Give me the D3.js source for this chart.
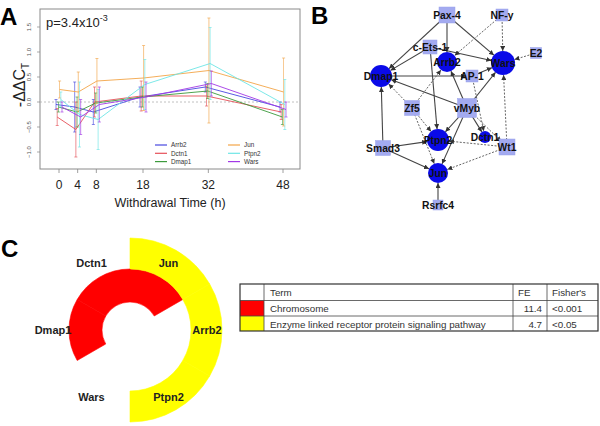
<!DOCTYPE html>
<html><head><meta charset="utf-8">
<script src="https://cdn.jsdelivr.net/npm/d3@7"></script>
<style>body{margin:0;background:#fff}svg{display:block}text{font-family:"Liberation Sans",Arial,sans-serif}</style>
</head><body><svg id="c" width="600" height="426"></svg>
<script>
// ---------- Panel A data ----------
const times = [0, 4, 8, 18, 32, 48];
const seriesNames = ["Arrb2", "Dctn1", "Dmap1", "Jun", "Ptpn2", "Wars"];
const arrb2Mean = [-0.05, -0.10, -0.20, 0.10, 0.30, -0.10];
const arrb2Err  = [0.10, 0.50, 0.25, 0.20, 0.10, 0.10];
const dctn1Mean = [-0.30, -0.55, 0.00, 0.12, 0.12, -0.20];
const dctn1Err  = [0.17, 0.55, 0.30, 0.30, 0.20, 0.15];
const dmap1Mean = [-0.10, -0.20, -0.02, 0.10, 0.22, -0.30];
const dmap1Err  = [0.10, 0.30, 0.20, 0.20, 0.15, 0.15];
const junMean   = [0.25, 0.20, 0.42, 0.48, 0.63, 0.20];
const junErr    = [0.17, 0.40, 0.45, 0.65, 1.05, 0.68];
const ptpn2Mean = [0.05, -0.25, -0.35, 0.35, 0.77, -0.05];
const ptpn2Err  = [0.15, 0.65, 0.60, 0.50, 0.72, 0.50];
const warsMean  = [-0.10, -0.30, -0.05, 0.10, 0.37, -0.15];
const warsErr   = [0.10, 0.35, 0.35, 0.30, 0.25, 0.15];
const yTicks = [-1.0, -0.5, 0.0, 0.5, 1.0, 1.5];
const pText = "p=3.4x10";
const pExp = "-3";

// ---------- Panel B data ----------
const netNodes = ["Pax-4","NF-y","c-Ets-1","Arrb2","Wars","E2","Dmap1","AP-1","Zf5","vMyb","Dctn1","Ptpn2","Wt1","Smad3","Jun","Rsrfc4"];
const netKinds = ["tf","tf","tf","gene","gene","tf","gene","tf","tf","tf","gene","gene","tf","tf","gene","tf"];
const solidEdges = [["Pax-4","Dmap1"],["Pax-4","Arrb2"],["Pax-4","Wars"],["c-Ets-1","Dmap1"],["c-Ets-1","Wars"],["c-Ets-1","Ptpn2"],["Dmap1","AP-1"],["AP-1","Wars"],["vMyb","Dmap1"],["vMyb","Wars"],["vMyb","Arrb2"],["vMyb","Ptpn2"],["vMyb","Jun"],["vMyb","Dctn1"],["Smad3","Dmap1"],["Smad3","Ptpn2"],["Smad3","Jun"],["Rsrfc4","Jun"]];
const dashedEdges = [["NF-y","Arrb2"],["NF-y","Wars"],["E2","Wars"],["Zf5","Dmap1"],["Zf5","Arrb2"],["Zf5","Ptpn2"],["Zf5","Jun"],["AP-1","Dctn1"],["vMyb","Wt1"],["Wt1","Wars"],["Wt1","Ptpn2"],["Wt1","Jun"]];

// ---------- Panel C data ----------
const ringGenes = ["Jun","Arrb2","Ptpn2","Wars","Dmap1","Dctn1"];
const chromosomeGenes = ["Jun","Dmap1","Dctn1"];
const enzymeGenes = ["Jun","Arrb2","Ptpn2"];
const tableHeader = ["", "Term", "FE", "Fisher's"];
const termNames = ["Chromosome", "Enzyme linked receptor protein signaling pathway"];
const termFE = ["11.4", "4.7"];
const termP = ["<0.001", "<0.05"];

// ---------- layout / style (not data) ----------
const colors = {Arrb2:"#4848e0", Dctn1:"#e65058", Dmap1:"#3c9a3c", Jun:"#f3a548", Ptpn2:"#6ee6e6", Wars:"#a238e6"};
const termColors = ["#ff0000", "#ffff00"];
const netLayout = {"Pax-4":[447,15,16],"NF-y":[502,15,12],"c-Ets-1":[430,47,14],"Arrb2":[447,62,10],"Wars":[503,63,12],"E2":[536,53,11],"Dmap1":[381,76,11],"AP-1":[472,76,12],"Zf5":[412,108,15],"vMyb":[467,108,19],"Dctn1":[485,137,6],"Ptpn2":[438,140,11],"Wt1":[507,147,16],"Smad3":[383,148,15],"Jun":[438,173,10],"Rsrfc4":[438,205,10]};

const svg = d3.select("#c");
const series = [
  {name:"Arrb2", m:arrb2Mean, e:arrb2Err},
  {name:"Dctn1", m:dctn1Mean, e:dctn1Err},
  {name:"Dmap1", m:dmap1Mean, e:dmap1Err},
  {name:"Jun", m:junMean, e:junErr},
  {name:"Ptpn2", m:ptpn2Mean, e:ptpn2Err},
  {name:"Wars", m:warsMean, e:warsErr}
];

// ===== Panel A =====
const gA = svg.append("g");
const x = d3.scaleLinear().domain([0,48]).range([59,283]);
const y = d3.scaleLinear().domain([0,1]).range([102,52]);
const box = {l:40, r:300, t:9, b:169};

gA.append("text").attr("x",0).attr("y",25).attr("font-size",24).attr("font-weight","bold").text("A");
gA.append("rect").attr("x",box.l).attr("y",box.t).attr("width",box.r-box.l).attr("height",box.b-box.t)
  .attr("fill","none").attr("stroke","#8a8a8a").attr("stroke-width",1);
gA.append("line").attr("x1",box.l).attr("x2",box.r).attr("y1",y(0)).attr("y2",y(0))
  .attr("stroke","#b0b0b0").attr("stroke-dasharray","2,2").attr("stroke-width",0.8);

// y axis
const yAxis = gA.append("g");
yTicks.forEach(v=>{
  yAxis.append("line").attr("x1",box.l-3).attr("x2",box.l).attr("y1",y(v)).attr("y2",y(v)).attr("stroke","#888").attr("stroke-width",0.7);
  yAxis.append("text").attr("transform",`translate(${box.l-9},${y(v)}) rotate(-90)`).attr("text-anchor","middle")
    .attr("font-size",6).attr("fill","#555").text(d3.format(".1f")(v));
});
// x axis
times.forEach(t=>{
  gA.append("line").attr("x1",x(t)).attr("x2",x(t)).attr("y1",box.b).attr("y2",box.b+4).attr("stroke","#888").attr("stroke-width",0.8);
  gA.append("text").attr("x",x(t)).attr("y",189).attr("text-anchor","middle").attr("font-size",12).attr("fill","#222").text(t);
});
gA.append("text").attr("x",170).attr("y",207).attr("text-anchor","middle").attr("font-size",12.5).attr("fill","#222").text("Withdrawal Time (h)");
const yl = gA.append("text").attr("transform","translate(25,85) rotate(-90)").attr("text-anchor","middle").attr("font-size",16).attr("fill","#222");
yl.append("tspan").text("-ΔΔC");
yl.append("tspan").attr("font-size",10).attr("dy",4).text("T");
const pt = gA.append("text").attr("x",46).attr("y",27).attr("font-size",13).attr("fill","#222");
pt.append("tspan").text(pText);
pt.append("tspan").attr("font-size",9).attr("dy",-6).text(pExp);

const offsets = [-3,-1.8,-0.6,0.6,1.8,3];
series.forEach((s,i)=>{
  const g = gA.append("g");
  const px = t=> x(t)+offsets[i];
  const line = d3.line().x((d,j)=>px(times[j])).y(d=>y(d));
  g.append("path").attr("d",line(s.m)).attr("fill","none").attr("stroke",colors[s.name]).attr("stroke-width",1).attr("opacity",0.9);
  s.m.forEach((v,j)=>{
    const xx = px(times[j]);
    g.append("line").attr("x1",xx).attr("x2",xx).attr("y1",y(v-s.e[j])).attr("y2",y(v+s.e[j])).attr("stroke",colors[s.name]).attr("stroke-width",0.8).attr("opacity",0.8);
    [v-s.e[j], v+s.e[j]].forEach(w=>{
      g.append("line").attr("x1",xx-1.5).attr("x2",xx+1.5).attr("y1",y(w)).attr("y2",y(w)).attr("stroke",colors[s.name]).attr("stroke-width",0.8).attr("opacity",0.8);
    });
  });
});
// legend
seriesNames.forEach((n,i)=>{
  const col = Math.floor(i/3), row = i%3;
  const lx = 155 + col*73, ly = 145 + row*8.3;
  gA.append("line").attr("x1",lx).attr("x2",lx+12).attr("y1",ly).attr("y2",ly).attr("stroke",colors[n]).attr("stroke-width",1.2);
  gA.append("text").attr("x",lx+16).attr("y",ly+2.2).attr("font-size",6.3).attr("fill","#333").text(n);
});

// ===== Panel B =====
const gB = svg.append("g");
gB.append("text").attr("x",311).attr("y",24).attr("font-size",24).attr("font-weight","bold").text("B");
const defs = svg.append("defs");
defs.append("marker").attr("id","arr").attr("viewBox","0 0 10 10").attr("refX",10).attr("refY",5)
  .attr("markerWidth",5).attr("markerHeight",5).attr("markerUnits","userSpaceOnUse").attr("orient","auto")
  .append("path").attr("d","M0,0L10,5L0,10z").attr("fill","#333");
const nodeMap = {};
netNodes.forEach((n,i)=>{ nodeMap[n] = {name:n, kind:netKinds[i], x:netLayout[n][0], y:netLayout[n][1], s:netLayout[n][2]}; });
function drawEdge(e, dashed){
  const a=nodeMap[e[0]], b=nodeMap[e[1]];
  const dx=b.x-a.x, dy=b.y-a.y, L=Math.hypot(dx,dy);
  const rb = b.kind==="gene"? b.s : b.s/2;
  const ex = b.x - dx/L*rb, ey = b.y - dy/L*rb;
  gB.append("line").attr("x1",a.x).attr("y1",a.y).attr("x2",ex).attr("y2",ey)
    .attr("stroke", dashed? "#555":"#444").attr("stroke-width",dashed?0.9:1.1)
    .attr("stroke-dasharray", dashed? "2,1.5": null).attr("marker-end","url(#arr)");
}
solidEdges.forEach(e=>drawEdge(e,false));
dashedEdges.forEach(e=>drawEdge(e,true));
Object.values(nodeMap).forEach(n=>{
  if(n.kind==="gene") gB.append("circle").attr("cx",n.x).attr("cy",n.y).attr("r",n.s).attr("fill","#0a0ae8");
  else gB.append("rect").attr("x",n.x-n.s/2).attr("y",n.y-n.s/2).attr("width",n.s).attr("height",n.s).attr("fill","#a3aaf0").attr("stroke","#9aa2ea").attr("stroke-width",0.5);
});
Object.values(nodeMap).forEach(n=>{
  gB.append("text").attr("x",n.x).attr("y",n.y).attr("dy","0.35em").attr("text-anchor","middle")
    .attr("font-size",10.3).attr("font-weight","bold").attr("fill","#111").text(n.name);
});

// ===== Panel C =====
const gC = svg.append("g");
gC.append("text").attr("x",1).attr("y",257).attr("font-size",24).attr("font-weight","bold").text("C");
const cx=130, cy=330;
const pie = d3.pie().value(1).sort(null);
const slices = pie(ringGenes);
const arcRed = d3.arc().innerRadius(28).outerRadius(61);
const arcYel = d3.arc().innerRadius(61).outerRadius(92);
const gd = gC.append("g").attr("transform",`translate(${cx},${cy})`);
slices.forEach(sl=>{
  if(chromosomeGenes.includes(sl.data)) gd.append("path").attr("d",arcRed(sl)).attr("fill",termColors[0]).attr("stroke",termColors[0]).attr("stroke-width",0.6);
  if(enzymeGenes.includes(sl.data)) gd.append("path").attr("d",arcYel(sl)).attr("fill",termColors[1]).attr("stroke",termColors[1]).attr("stroke-width",0.6);
});
slices.forEach(sl=>{
  const a = (sl.startAngle+sl.endAngle)/2;
  gd.append("text").attr("x",Math.sin(a)*77).attr("y",-Math.cos(a)*77).attr("dy","0.35em").attr("text-anchor","middle")
    .attr("font-size",11).attr("font-weight","bold").attr("fill","#222").text(sl.data);
});

// table
const tb = gC.append("g");
const colX = [240, 264, 513, 547, 598];
const rowY = [284, 300.5, 316, 331];
for(let r=0;r<2;r++){
  tb.append("rect").attr("x",colX[0]).attr("y",rowY[r+1]).attr("width",colX[1]-colX[0]).attr("height",rowY[r+2]-rowY[r+1]).attr("fill",termColors[r]);
}
rowY.slice(1,3).forEach(yy=>tb.append("line").attr("x1",colX[0]).attr("x2",colX[4]).attr("y1",yy).attr("y2",yy).attr("stroke","#444").attr("stroke-width",0.8));
colX.slice(1,4).forEach(xx=>tb.append("line").attr("x1",xx).attr("x2",xx).attr("y1",rowY[0]).attr("y2",rowY[3]).attr("stroke","#444").attr("stroke-width",0.8));
tb.append("rect").attr("x",colX[0]).attr("y",rowY[0]).attr("width",colX[4]-colX[0]).attr("height",rowY[3]-rowY[0]).attr("fill","none").attr("stroke","#333").attr("stroke-width",1.2);
const fs = 9.8, tc = "#333";
tb.append("text").attr("x",colX[1]+6).attr("y",rowY[0]+11.5).attr("font-size",fs).attr("fill",tc).text(tableHeader[1]);
tb.append("text").attr("x",colX[2]+5).attr("y",rowY[0]+11.5).attr("font-size",fs).attr("fill",tc).text(tableHeader[2]);
tb.append("text").attr("x",colX[3]+5).attr("y",rowY[0]+11.5).attr("font-size",fs).attr("fill",tc).text(tableHeader[3]);
termNames.forEach((t,i)=>{
  const by = rowY[i+1]+11.5;
  tb.append("text").attr("x",colX[1]+6).attr("y",by).attr("font-size",fs).attr("fill",tc).text(t);
  tb.append("text").attr("x",colX[3]-5).attr("y",by).attr("text-anchor","end").attr("font-size",fs).attr("fill",tc).text(termFE[i]);
  tb.append("text").attr("x",colX[3]+5).attr("y",by).attr("font-size",fs).attr("fill",tc).text(termP[i]);
});
</script></body></html>
